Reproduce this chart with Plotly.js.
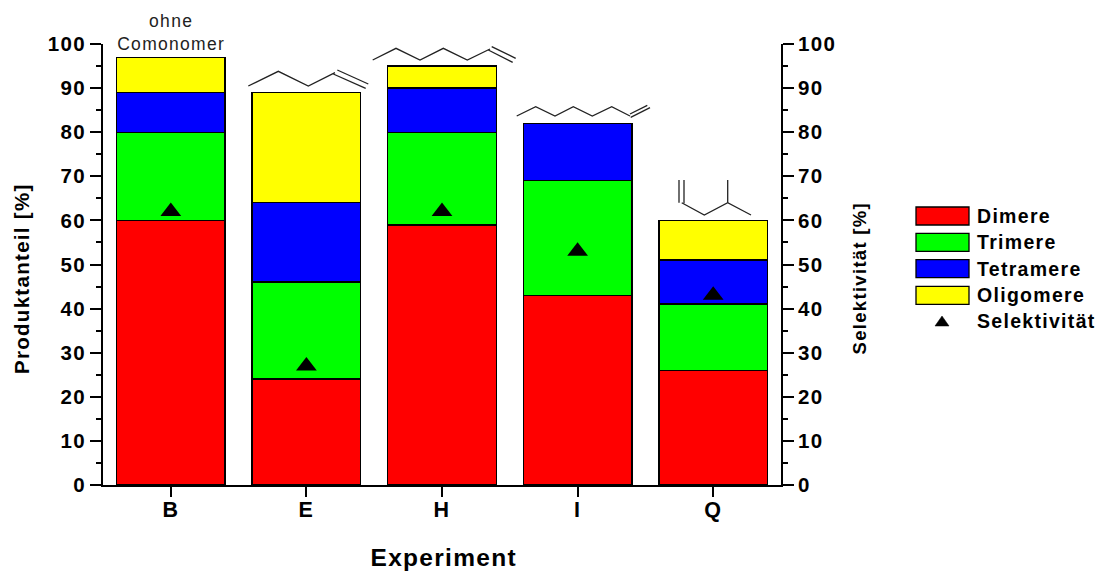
<!DOCTYPE html>
<html><head><meta charset="utf-8">
<script src="https://cdn.plot.ly/plotly-3.0.1.min.js"></script>
<style>
html,body{margin:0;padding:0;background:#fff}
#c text{letter-spacing:1.3px}
</style></head><body><div id="c" style="width:1099px;height:572px"></div>
<script>
const experiments = ['B','E','H','I','Q'];
const dimere = [60,24,59,43,26];
const trimere = [20,22,21,26,15];
const tetramere = [9,18,10,13,10];
const oligomere = [8,25,5,0,9];
const selektivitaet = [62,27,62,53,43];
const seriesNames = ['Dimere','Trimere','Tetramere','Oligomere'];
const seriesColors = ['#ff0000','#00ff00','#0000ff','#ffff00'];
const seriesValues = [dimere,trimere,tetramere,oligomere];
const W=1099,H=572,L=103,R=781,T=44,B=485;
const FF='"Liberation Sans", Arial, sans-serif';
const fx=x=>(x-L)/(R-L), fy=y=>(B-y)/(B-T);
const traces = seriesNames.map((n,i)=>({type:'bar',name:n,x:experiments,y:seriesValues[i],
  marker:{color:seriesColors[i],line:{color:'#000',width:1.4}},width:0.8}));
traces.push({type:'scatter',mode:'markers',name:'Selektivität',x:experiments,y:selektivitaet,yaxis:'y2',
  marker:{symbol:'triangle-up',size:18,color:'#000'}});
const mol=[
 [[248.3,86],[278.3,71.3],[308.3,86],[335,72.7]],
 [[337.3,70],[368.3,84]],[[333.3,74],[365.7,88.3]],
 [[372.7,60],[396,48.3],[420,60],[443.3,48.3],[467.3,60],[490,49]],
 [[491.7,46.7],[515.7,58.3]],[[488.3,50],[512.7,62.3]],
 [[516.7,116],[535.7,106.7],[555,116],[573.3,106.7],[592.3,116],[611.7,106.7],[630,116]],
 [[630,114],[647.3,105.3]],[[630.7,117.3],[650,107.7]],
 [[679,180],[679,202.7]],[[684,180],[684,203.3]],
 [[681.7,202.7],[704.3,215],[727.7,202.7],[751,215]],[[727.7,202.7],[727.7,180]]
];
const shapes=mol.map(p=>({type:'path',xref:'paper',yref:'paper',
  path:p.map((q,i)=>(i?'L':'M')+fx(q[0])+','+fy(q[1])).join(' '),line:{color:'#222',width:1.3}}));
const rows=[216,242.3,268.7,295.3];
seriesNames.forEach((n,i)=>shapes.push({type:'rect',xref:'paper',yref:'paper',
  x0:fx(916),x1:fx(969),y0:fy(rows[i]-9),y1:fy(rows[i]+9),fillcolor:seriesColors[i],line:{color:'#000',width:1.3}}));
shapes.push({type:'path',xref:'paper',yref:'paper',
  path:`M${fx(935)},${fy(326)} L${fx(949)},${fy(326)} L${fx(942)},${fy(316)} Z`,fillcolor:'#000',line:{color:'#000',width:0.5}});
const ann=[...seriesNames,'Selektivität'].map((n,i)=>({xref:'paper',yref:'paper',x:fx(975),y:fy([...rows,321.5][i]),
  text:n,showarrow:false,xanchor:'left',align:'left',yanchor:'middle',font:{family:FF,size:19.5,color:'#000',weight:700}}));
ann.push({xref:'paper',yref:'paper',x:fx(171),y:fy(33),text:'ohne<br>Comonomer',showarrow:false,
  xanchor:'center',yanchor:'middle',font:{family:FF,size:17.5,color:'#222'}});
ann.push({xref:'paper',yref:'paper',x:fx(21),y:fy(279),text:'Produktanteil [%]',textangle:-90,showarrow:false,
  xanchor:'center',yanchor:'middle',font:{family:FF,size:20.5,color:'#000',weight:700}});
ann.push({xref:'paper',yref:'paper',x:fx(859),y:fy(278),text:'Selektivität [%]',textangle:-90,showarrow:false,
  xanchor:'center',yanchor:'middle',font:{family:FF,size:18.5,color:'#000',weight:700}});
ann.push({xref:'paper',yref:'paper',x:fx(443),y:fy(557),text:'Experiment',showarrow:false,
  xanchor:'center',yanchor:'middle',font:{family:FF,size:24.5,color:'#000',weight:700}});
const ax={showline:true,linecolor:'#000',linewidth:2,ticks:'outside',tickcolor:'#000',tickwidth:2,ticklen:11,
  range:[0,100],tick0:0,dtick:10,showgrid:false,zeroline:false,fixedrange:true,
  tickfont:{family:FF,size:20.5,color:'#000',weight:700},
  minor:{ticks:'outside',ticklen:5,tickwidth:2,tickcolor:'#000',dtick:5,showgrid:false}};
const layout={width:W,height:H,paper_bgcolor:'#fff',plot_bgcolor:'#fff',barmode:'stack',showlegend:false,
  margin:{l:L,r:W-R,t:T,b:H-B,pad:0},shapes,annotations:ann,
  xaxis:{showline:true,linecolor:'#000',linewidth:2,ticks:'outside',tickcolor:'#000',tickwidth:2,ticklen:10,
    range:[-0.5,4.5],showgrid:false,zeroline:false,fixedrange:true,type:'category',ticklabelstandoff:-6,
    tickfont:{family:FF,size:21.5,color:'#000',weight:700}},
  yaxis:{...ax},
  yaxis2:{...ax,overlaying:'y',side:'right'}
};
Plotly.newPlot('c',traces,layout,{displayModeBar:false,staticPlot:true});
</script></body></html>
